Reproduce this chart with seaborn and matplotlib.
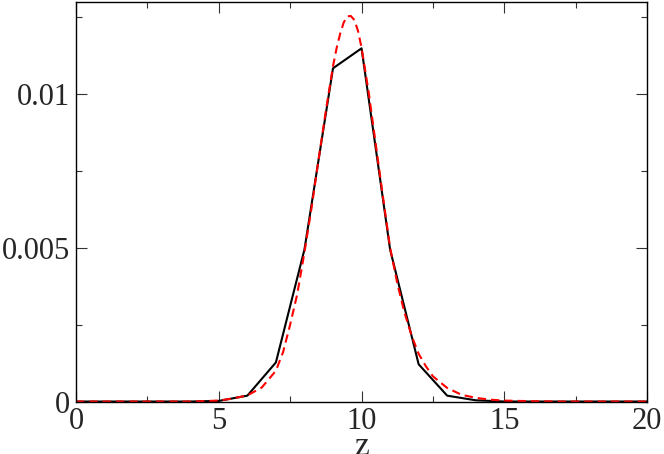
import numpy as np
import matplotlib
matplotlib.use("Agg")
import matplotlib.pyplot as plt
import seaborn as sns
from matplotlib.ticker import MultipleLocator, FuncFormatter

sns.set_style("ticks")
plt.rcParams['font.family'] = ['Liberation Serif', 'DejaVu Serif']

# Histogram (black solid line), sampled at integer z
z_hist = [0, 1, 2, 3, 4, 5, 6, 7, 8, 9, 10, 11, 12, 13, 14, 15, 16, 17, 18, 19, 20]
p_hist = [0, 0, 0, 0, 0, 0.00002, 0.00019, 0.00127, 0.00494, 0.01083, 0.01148,
          0.00494, 0.00121, 0.00019, 0.00004, 0, 0, 0, 0, 0, 0]

# Fitted curve (red dashed line)
z_fit = [0, 4, 5, 5.5, 6, 6.5, 7, 7.25, 7.5, 7.75, 8, 8.25, 8.5, 8.75, 9, 9.125,
         9.25, 9.375, 9.5, 9.625, 9.75, 9.875, 10, 10.25, 10.5, 10.75, 11, 11.25,
         11.5, 11.75, 12, 12.25, 12.5, 13, 13.5, 14, 14.5, 15, 16, 17, 20]
p_fit = [0, 0, 0.00003, 0.0001, 0.0002, 0.00045, 0.001, 0.0016, 0.0025, 0.0035,
         0.00485, 0.0063, 0.0079, 0.00945, 0.0109, 0.01148, 0.01195, 0.01232,
         0.01252, 0.01253, 0.0124, 0.01205, 0.0115, 0.01005, 0.00835, 0.00665,
         0.005, 0.00385, 0.0029, 0.00215, 0.00155, 0.00115, 0.00082, 0.00044,
         0.00022, 0.00012, 0.00006, 0.00003, 0.00001, 0, 0]

fig = plt.figure(figsize=(6.64, 4.54), dpi=100)
ax = fig.add_axes([0.1145, 0.1156, 0.86, 0.881])

sns.lineplot(x=z_hist, y=p_hist, color='black', linewidth=1.5, ax=ax, sort=False)
sns.lineplot(x=z_fit, y=p_fit, color='#ff0000', linewidth=1.5, ax=ax, sort=False,
             linestyle=(0, (4, 2.4)))

ax.set_xlim(0, 20)
ax.set_ylim(0, 0.013)
ax.xaxis.set_major_locator(MultipleLocator(5))
ax.xaxis.set_minor_locator(MultipleLocator(2.5))
ax.yaxis.set_major_locator(MultipleLocator(0.005))
ax.yaxis.set_minor_locator(MultipleLocator(0.0025))
ax.yaxis.set_major_formatter(FuncFormatter(lambda v, p: '{:g}'.format(round(v, 6))))
ax.xaxis.set_major_formatter(FuncFormatter(lambda v, p: '{:g}'.format(v)))

ax.tick_params(which='both', direction='in', top=True, right=True, width=0.8,
               color='#333333', labelsize=22)
ax.tick_params(which='major', length=8, pad=4)
ax.tick_params(which='minor', length=4.3)
for s in ax.spines.values():
    s.set_linewidth(1.0)
    s.set_color('black')

ax.set_xlabel('z', fontsize=24, labelpad=-3)
ax.set_ylabel('')

fig.savefig('out.png', dpi=100)
